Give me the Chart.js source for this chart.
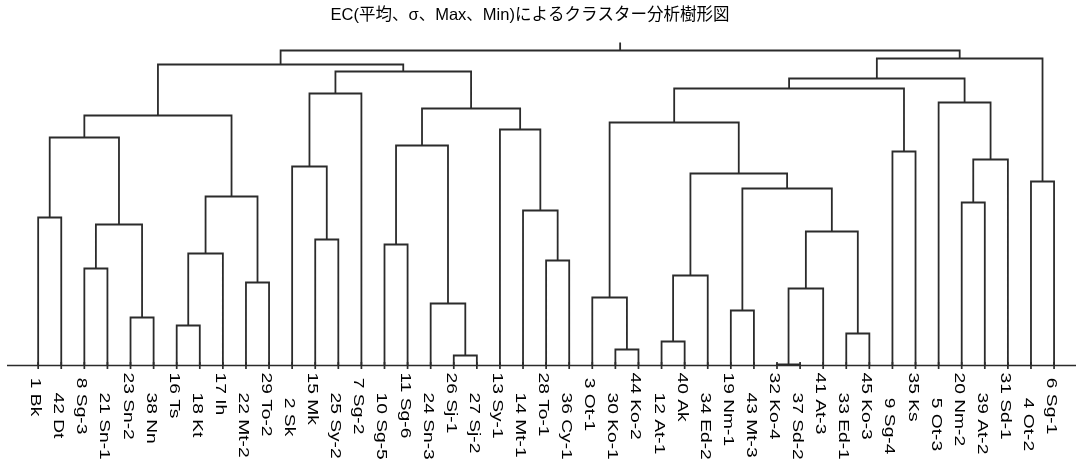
<!DOCTYPE html>
<html>
<head>
<meta charset="utf-8">
<script src="https://cdn.jsdelivr.net/npm/chart.js@4.4.1/dist/chart.umd.min.js"></script>
<style>
  html, body { margin: 0; padding: 0; background: #fff; }
  canvas { display: block; }
</style>
</head>
<body>
<canvas id="dendro" width="1076" height="461"></canvas>
<script>
const chartTitle = "EC(平均、σ、Max、Min)によるクラスター分析樹形図";

// leaves in the order they sit along the axis
const leaves = [
    "1 Bk", "42 Dt", "8 Sg-3", "21 Sn-1", "23 Sn-2", "38 Nn", "16 Ts", "18 Kt",
    "17 Ih", "22 Mt-2", "29 To-2", "2 Sk", "15 Mk", "25 Sy-2", "7 Sg-2", "10 Sg-5",
    "11 Sg-6", "24 Sn-3", "26 Sj-1", "27 Sj-2", "13 Sy-1", "14 Mt-1", "28 To-1", "36 Cy-1",
    "3 Ot-1", "30 Ko-1", "44 Ko-2", "12 At-1", "40 Ak", "34 Ed-2", "19 Nm-1", "43 Mt-3",
    "32 Ko-4", "37 Sd-2", "41 At-3", "33 Ed-1", "45 Ko-3", "9 Sg-4", "35 Ks", "5 Ot-3",
    "20 Nm-2", "39 At-2", "31 Sd-1", "4 Ot-2", "6 Sg-1",
];

// merge steps: [left, right, distance]
// a string is a leaf, a number points at an earlier merge
const merges = [
    ["1 Bk", "42 Dt", 14.8],      // 0
    ["8 Sg-3", "21 Sn-1", 9.7],   // 1
    ["23 Sn-2", "38 Nn", 4.8],    // 2
    [1, 2, 14.1],                 // 3
    [0, 3, 22.8],                 // 4
    ["16 Ts", "18 Kt", 4.0],      // 5
    [5, "17 Ih", 11.2],           // 6
    ["22 Mt-2", "29 To-2", 8.3],  // 7
    [6, 7, 16.9],                 // 8
    [4, 8, 25.0],                 // 9
    ["15 Mk", "25 Sy-2", 12.6],   // 10
    ["2 Sk", 10, 19.9],           // 11
    [11, "7 Sg-2", 27.2],         // 12
    ["10 Sg-5", "11 Sg-6", 12.1], // 13
    ["26 Sj-1", "27 Sj-2", 1.0],  // 14
    ["24 Sn-3", 14, 6.2],         // 15
    [13, 15, 22.0],               // 16
    ["28 To-1", "36 Cy-1", 10.5], // 17
    ["14 Mt-1", 17, 15.5],        // 18
    ["13 Sy-1", 18, 23.6],        // 19
    [16, 19, 25.7],               // 20
    [12, 20, 29.4],               // 21
    [9, 21, 30.1],                // 22
    ["30 Ko-1", "44 Ko-2", 1.6],  // 23
    ["3 Ot-1", 23, 6.8],          // 24
    ["12 At-1", "40 Ak", 2.4],    // 25
    [25, "34 Ed-2", 9.0],         // 26
    ["19 Nm-1", "43 Mt-3", 5.5],  // 27
    ["32 Ko-4", "37 Sd-2", 0.1],  // 28
    [28, "41 At-3", 7.7],         // 29
    ["33 Ed-1", "45 Ko-3", 3.2],  // 30
    [29, 30, 13.4],               // 31
    [27, 31, 17.7],               // 32
    [26, 32, 19.2],               // 33
    [24, 33, 24.3],               // 34
    ["9 Sg-4", "35 Ks", 21.4],    // 35
    [34, 35, 27.7],               // 36
    ["20 Nm-2", "39 At-2", 16.3], // 37
    [37, "31 Sd-1", 20.6],        // 38
    ["5 Ot-3", 38, 26.3],         // 39
    [36, 39, 28.7],               // 40
    ["4 Ot-2", "6 Sg-1", 18.4],   // 41
    [40, 41, 30.7],               // 42
    [22, 42, 31.5],               // 43
];

const rootStub = 0.8;   // little stem above the last merge

// x of a node = leaf index, or the middle of its two children
let nodeX = [], nodeH = [];
function pos(ref){
    if (typeof ref === "string") return { x: leaves.indexOf(ref), h: 0 };
    return { x: nodeX[ref], h: nodeH[ref] };
}

let segs = [];
merges.forEach((m, i) => {
    let a = pos(m[0]), b = pos(m[1]), h = m[2];
    nodeX[i] = (a.x + b.x) / 2;
    nodeH[i] = h;
    segs.push({ x: a.x, y: a.h }, { x: a.x, y: h }, { x: b.x, y: h }, { x: b.x, y: b.h });
    segs.push({ x: b.x, y: null });
});
let last = merges.length - 1;
segs.push({ x: nodeX[last], y: nodeH[last] }, { x: nodeX[last], y: nodeH[last] + rootStub });

const labelFont = '15px "Liberation Sans", Arial, sans-serif';
const titleFont = '16.5px "Liberation Sans", "Noto Sans CJK JP", sans-serif';

// axis line, ticks, sideways leaf names and the title
const decorations = {
    id: "decorations",
    afterDatasetsDraw(chart){
        let ctx = chart.ctx, x = chart.scales.x, y = chart.scales.y;
        let area = chart.chartArea;
        let y0 = y.getPixelForValue(0);

        ctx.save();
        ctx.strokeStyle = "#2b2b2b";
        ctx.lineWidth = 1.7;
        ctx.beginPath();
        ctx.moveTo(area.left, y0);
        ctx.lineTo(area.right, y0);
        leaves.forEach((_, i) => {
            let px = x.getPixelForValue(i);
            ctx.moveTo(px, y0 - 3.5);
            ctx.lineTo(px, y0 + 3.5);
        });
        ctx.stroke();

        ctx.fillStyle = "#000";
        ctx.font = labelFont;
        ctx.textAlign = "left";
        ctx.textBaseline = "alphabetic";
        leaves.forEach((name, i) => {
            let px = x.getPixelForValue(i);
            let text = (parseInt(name) < 10 ? " " : "") + name;
            ctx.save();
            ctx.translate(px - 7, y0 + (i % 2 ? 27 : 7));
            ctx.rotate(Math.PI / 2);
            ctx.scale(1.28, 1);
            ctx.fillText(text, 0, 0);
            ctx.restore();
        });

        ctx.font = titleFont;
        ctx.textAlign = "center";
        ctx.textBaseline = "middle";
        ctx.fillText(chartTitle, 530, 15.5);
        ctx.restore();
    }
};

new Chart(document.getElementById("dendro"), {
    type: "line",
    data: {
        datasets: [{
            data: segs,
            borderColor: "#2b2b2b",
            borderWidth: 1.8,
            pointRadius: 0,
            fill: false,
            tension: 0,
            spanGaps: false,
            clip: false,
        }],
    },
    options: {
        responsive: false,
        devicePixelRatio: 1,
        animation: false,
        layout: { padding: { left: 7, right: 0, top: 40, bottom: 95.5 } },
        scales: {
            x: { type: "linear", min: -1.35, max: 44.95, display: false },
            y: { type: "linear", min: 0, max: 32.55, display: false },
        },
        plugins: {
            legend: { display: false },
            tooltip: { enabled: false },
            title: { display: false },
        },
    },
    plugins: [decorations],
});
</script>
</body>
</html>
